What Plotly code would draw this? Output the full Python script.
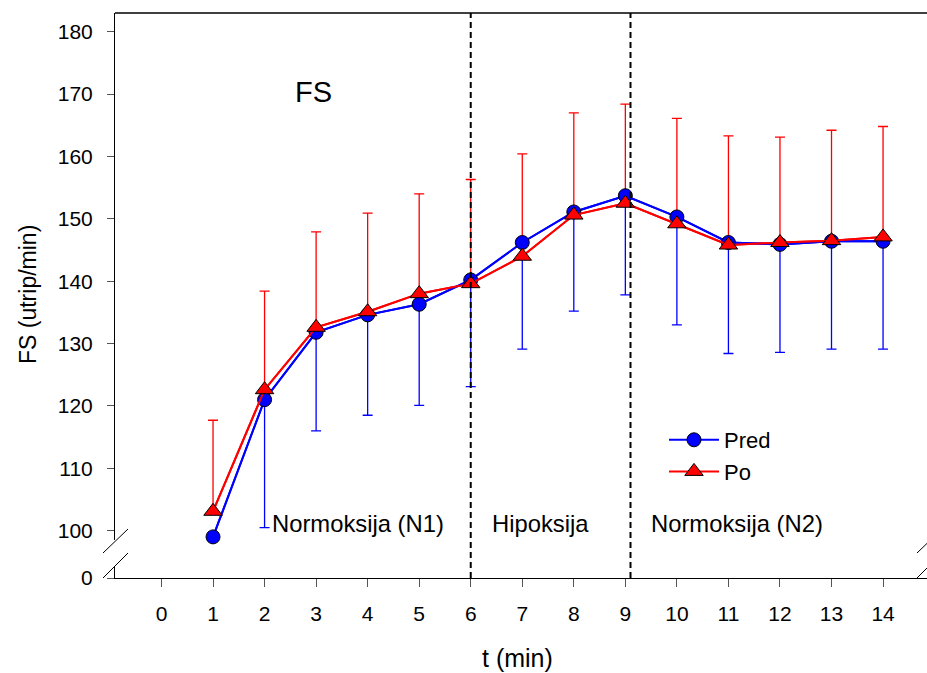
import plotly.graph_objects as go

# ---- data ----
t_min = [1, 2, 3, 4, 5, 6, 7, 8, 9, 10, 11, 12, 13, 14]
pred_mean = [99.0, 121.0, 131.8, 134.6, 136.3, 140.2, 146.2, 151.1, 153.7, 150.3, 146.2, 145.9, 146.4, 146.4]
pred_err_minus = [16.0, 20.5, 15.8, 16.1, 16.2, 17.1, 17.1, 15.9, 15.9, 17.3, 17.8, 17.3, 17.3, 17.3]
po_mean = [103.1, 122.6, 132.6, 135.1, 138.0, 139.6, 144.0, 150.6, 152.5, 149.2, 145.8, 146.2, 146.5, 147.1]
po_err_plus = [14.6, 15.8, 15.3, 15.8, 16.0, 16.7, 16.4, 16.4, 15.9, 16.9, 17.5, 16.9, 17.7, 17.7]

x_ticks = list(range(0, 15))
y_ticks = [100, 110, 120, 130, 140, 150, 160, 170, 180]
y_low_ticks = [0]
phase_bounds = [6, 9.1]
phase_labels = ["Normoksija (N1)", "Hipoksija", "Normoksija (N2)"]
phase_label_x = [3.81, 7.35, 11.16]
phase_label_y = 101.2

FONT = "Liberation Sans, Arial, sans-serif"
BLUE = "#0000FF"
RED = "#FF0000"

W, H = 927, 673
ML, MR, MT, MB = 115, 0, 13, 95
PW, PH = W - ML - MR, H - MT - MB

def py(px_y):
    return (H - MB - px_y) / PH

def px(px_x):
    return (px_x - ML) / PW

upper_dom = [py(540), 1.0]
lower_dom = [0.0, py(566)]

fig = go.Figure()

# placeholder trace so the lower (broken) axis segment exists
fig.add_trace(go.Scatter(x=[None], y=[None], mode="markers", xaxis="x", yaxis="y2",
                         showlegend=False, hoverinfo="skip"))

# error bars + lines (clipped on main subplot)
fig.add_trace(go.Scatter(
    x=t_min, y=pred_mean, mode="lines", xaxis="x", yaxis="y",
    line=dict(color=BLUE, width=2), showlegend=False, hoverinfo="skip",
    error_y=dict(type="data", symmetric=False, array=[0] * len(t_min),
                 arrayminus=pred_err_minus, color=BLUE, thickness=1.3, width=5),
))
fig.add_trace(go.Scatter(
    x=t_min, y=po_mean, mode="lines", xaxis="x", yaxis="y",
    line=dict(color=RED, width=2), showlegend=False, hoverinfo="skip",
    error_y=dict(type="data", symmetric=False, array=po_err_plus,
                 arrayminus=[0] * len(t_min), color=RED, thickness=1.3, width=5),
))
# lines + markers on an overlay subplot (markers not clipped)
fig.add_trace(go.Scatter(
    x=t_min, y=pred_mean, mode="lines+markers", name="Pred", xaxis="x", yaxis="y3",
    line=dict(color=BLUE, width=2), cliponaxis=False,
    marker=dict(symbol="circle", size=14, color=BLUE, line=dict(color="black", width=1)),
))
fig.add_trace(go.Scatter(
    x=t_min, y=po_mean, mode="lines+markers", name="Po", xaxis="x", yaxis="y3",
    line=dict(color=RED, width=2), cliponaxis=False,
    marker=dict(symbol="triangle-up", size=16, color=RED, line=dict(color="black", width=1)),
))

y_range = [98.5, 183.0]
x_range = [-0.902, -0.902 + PW / 51.54]

tick_common = dict(ticks="outside", ticklen=7, tickcolor="#555555", tickwidth=1,
                   tickfont=dict(family=FONT, size=21, color="black"),
                   showgrid=False, zeroline=False)

fig.update_layout(
    width=W, height=H,
    margin=dict(l=ML, r=MR, t=MT, b=MB, pad=0),
    paper_bgcolor="white", plot_bgcolor="white",
    font=dict(family=FONT, color="black"),
    xaxis=dict(domain=[0, 1], range=x_range, anchor="y2", tickvals=x_ticks,
               showline=True, linecolor="black", linewidth=1,
               ticklabelstandoff=9, **{**tick_common, "ticklen": 8}),
    yaxis=dict(domain=upper_dom, range=y_range, anchor="x", tickvals=y_ticks,
               showline=True, linecolor="black", linewidth=1,
               ticklabelstandoff=10, **tick_common),
    yaxis2=dict(domain=lower_dom, range=[0, 1], anchor="x", tickvals=y_low_ticks,
                showline=True, linecolor="black", linewidth=1,
                ticklabelstandoff=10, **tick_common),
    yaxis3=dict(overlaying="y", range=y_range, anchor="x", visible=False,
                showgrid=False, zeroline=False),
    legend=dict(x=px(664), y=py(456), xanchor="left", yanchor="middle",
                font=dict(family=FONT, size=22, color="black"), itemwidth=50,
                bgcolor="rgba(0,0,0,0)", borderwidth=0, tracegroupgap=0),
    showlegend=True,
)

shapes = []
# top frame line
shapes.append(dict(type="line", xref="paper", yref="paper", x0=0, x1=1, y0=1, y1=1,
                   line=dict(color="black", width=1.5)))
# phase boundaries
for b in phase_bounds:
    shapes.append(dict(type="line", xref="x", yref="paper", x0=b, x1=b, y0=0, y1=1,
                       line=dict(color="black", width=2, dash="6px,4px")))
# axis break marks (left and right)
for cx in (ML, ML + PW + 2):
    for (ya, yb) in ((553, 529), (578, 553)):
        shapes.append(dict(type="line", xref="paper", yref="paper",
                           x0=px(cx - 12), x1=px(cx + 13), y0=py(ya), y1=py(yb),
                           line=dict(color="black", width=1)))
fig.update_layout(shapes=shapes)

ann = []
ann.append(dict(text="FS", x=2.94, y=170.3, xref="x", yref="y", showarrow=False,
                font=dict(family=FONT, size=29, color="black"), xanchor="center", yanchor="middle"))
for lab, lx in zip(phase_labels, phase_label_x):
    ann.append(dict(text=lab, x=lx, y=phase_label_y, xref="x", yref="y", showarrow=False,
                    font=dict(family=FONT, size=23.8, color="black"),
                    xanchor="center", yanchor="middle"))
ann.append(dict(text="FS (utrip/min)", x=px(28), y=py(295), xref="paper", yref="paper",
                showarrow=False, textangle=-90, font=dict(family=FONT, size=23, color="black"),
                xanchor="center", yanchor="middle"))
ann.append(dict(text="t (min)", x=px(517), y=py(658), xref="paper", yref="paper",
                showarrow=False, font=dict(family=FONT, size=25, color="black"),
                xanchor="center", yanchor="middle"))
fig.update_layout(annotations=ann)

fig.write_html("out.html")
